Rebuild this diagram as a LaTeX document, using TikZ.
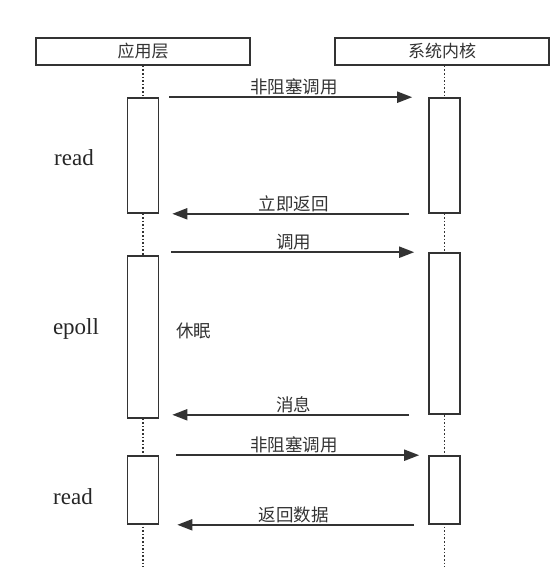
\documentclass[tikz,border=0pt]{standalone}
\usepackage{fontspec}
\setmainfont{Liberation Serif}
\newfontfamily\cjkfont{Noto Sans CJK SC}
\usepackage{xcolor}
\usepackage{tikz}
\usetikzlibrary{positioning, arrows.meta}

\definecolor{linegray}{HTML}{333333}
\definecolor{textgray}{HTML}{333333}

\begin{document}
\begin{tikzpicture}[x=1pt, y=-1pt,
    head/.style={draw=linegray, line width=1.6pt, rectangle, minimum width=214pt, minimum height=27pt, inner sep=0pt, font=\cjkfont\fontsize{17}{20}\selectfont, text=textgray},
    actbox/.style={draw=linegray, line width=1.6pt, fill=white, rectangle, minimum width=31pt, inner sep=0pt},
    life/.style={draw=linegray, line width=1.6pt, dotted},
    msg/.style={draw=linegray, line width=2pt, -{Triangle[length=15pt, width=11pt]}},
    lbl/.style={font=\cjkfont\fontsize{17.5}{20}\selectfont, text=textgray, inner sep=1pt},
    phase/.style={font=\fontsize{23}{26}\selectfont, text=black!85}]
    \useasboundingbox (0,0) rectangle (550,584);

    % Nodes
    \node[head] (app) at (143,51.5) {应用层};
    \node[head] (kernel) at (442,51.5) {系统内核};
    \coordinate (append) at (143,567);
    \coordinate (kernelend) at (444.5,567);

    \draw[life] (app.south) -- (append);
    \draw[life] (kernel.south -| kernelend) -- (kernelend);

    \node[actbox, minimum height=115pt] (app1) at (143,155.5) {};
    \node[actbox, minimum height=115pt] (ker1) at (444.5,155.5) {};
    \node[actbox, minimum height=162pt] (app2) at (143,337) {};
    \node[actbox, minimum height=161pt] (ker2) at (444.5,333.5) {};
    \node[actbox, minimum height=68pt] (app3) at (143,490) {};
    \node[actbox, minimum height=68pt] (ker3) at (444.5,490) {};

    \node[phase] (read1) at (74,158) {read};
    \node[phase] (epoll) at (76,329) {epoll};
    \node[phase] (read2) at (73,497) {read};
    \node[lbl, anchor=west] (sleep) at (175,331) {休眠};

    % Arrows
    \draw[msg, shorten <=10pt, shorten >=16pt] (app1.east |- ker1.north) -- node[lbl, above] {非阻塞调用} (ker1.north west);
    \draw[msg, shorten <=19pt, shorten >=13pt] (ker1.south west) -- node[lbl, above] {立即返回} (app1.east |- ker1.south);
    \draw[msg, shorten <=12pt, shorten >=14pt] (app2.east |- ker2.north) -- node[lbl, above] {调用} (ker2.north west);
    \draw[msg, shorten <=19pt, shorten >=13pt] (ker2.south west) -- node[lbl, above] {消息} (app2.east |- ker2.south);
    \draw[msg, shorten <=17pt, shorten >=9pt] (app3.east |- ker3.north) -- node[lbl, above] {非阻塞调用} (ker3.north west);
    \draw[msg, shorten <=14pt, shorten >=18pt] (ker3.south west) -- node[lbl, above] {返回数据} (app3.east |- ker3.south);
\end{tikzpicture}
\end{document}
